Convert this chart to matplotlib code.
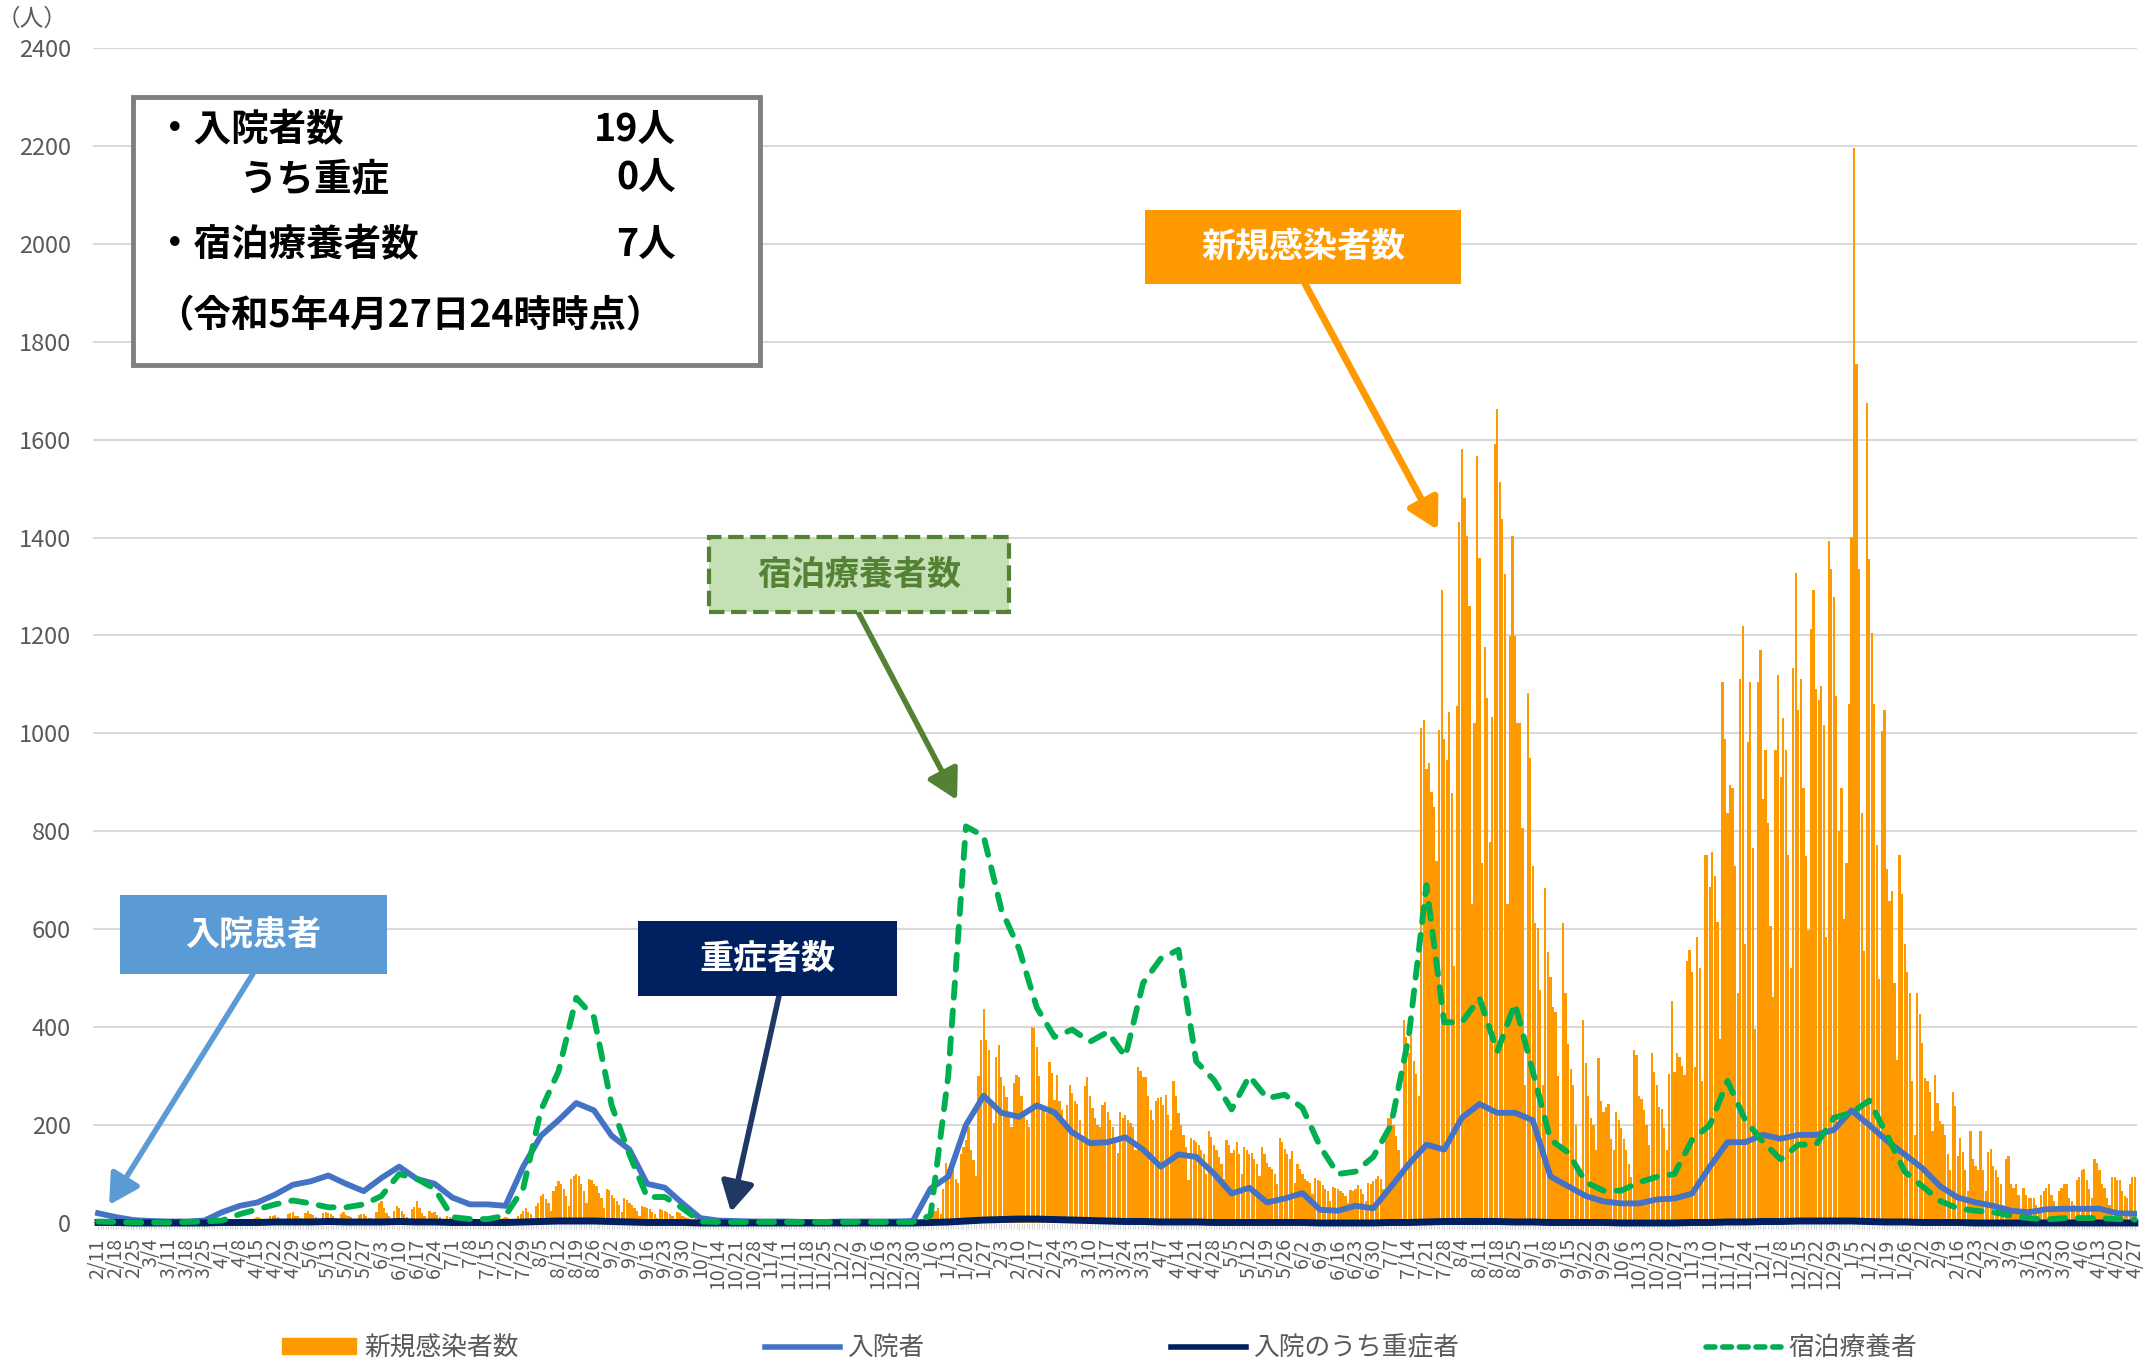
import numpy as np
import pandas as pd
import matplotlib
matplotlib.use('Agg')
import matplotlib.pyplot as plt
from matplotlib.patches import Rectangle, FancyArrowPatch
from matplotlib.lines import Line2D

plt.rcParams['font.family'] = ['Noto Sans CJK JP', 'DejaVu Sans']

# daily categories 2021/2/11 .. 2023/4/27
start_date = '2021-02-11'
end_date = '2023-04-27'

# new cases, one row per week (Thu..Wed)
new_cases_by_week = [
    [2, 1, 0, 0, 0, 1, 0], [0, 1, 0, 0, 0, 0, 1], [0, 0, 1, 0, 0, 0, 0], [1, 0, 0, 0, 0, 2, 1],
    [0, 1, 0, 0, 0, 0, 0], [0, 0, 0, 1, 0, 0, 1], [1, 2, 0, 0, 0, 1, 3], [4, 3, 2, 1, 0, 5, 6],
    [8, 6, 5, 3, 2, 9, 10], [12, 10, 8, 6, 3, 14, 15], [16, 12, 9, 8, 4, 18, 20], [22, 15, 14, 10, 6, 20, 24],
    [18, 16, 12, 9, 5, 20, 22], [20, 18, 14, 10, 6, 19, 23], [17, 15, 12, 8, 5, 16, 18], [18, 15, 11, 10, 4, 22, 40],
    [45, 30, 20, 15, 8, 25, 35], [30, 25, 18, 12, 6, 28, 32], [45, 30, 20, 14, 8, 25, 20], [22, 16, 12, 8, 4, 14, 12],
    [10, 8, 6, 5, 3, 8, 9], [7, 6, 4, 3, 2, 6, 8], [8, 6, 5, 4, 2, 8, 10], [12, 10, 8, 6, 4, 14, 18],
    [25, 30, 22, 18, 10, 35, 40], [55, 60, 48, 40, 25, 65, 75], [85, 80, 70, 55, 35, 90, 95], [100, 95, 80, 65, 40, 90, 88],
    [80, 75, 62, 50, 30, 70, 68], [58, 52, 45, 36, 22, 50, 46], [40, 36, 30, 25, 15, 35, 32], [30, 28, 22, 18, 10, 28, 26],
    [24, 22, 18, 14, 8, 22, 20], [14, 12, 10, 8, 5, 12, 10], [6, 5, 4, 3, 2, 5, 4], [3, 2, 2, 1, 1, 2, 2],
    [1, 0, 1, 0, 0, 1, 0], [0, 1, 0, 0, 0, 0, 1], [0, 0, 0, 1, 0, 0, 0], [1, 0, 0, 0, 0, 1, 0],
    [0, 0, 1, 0, 0, 0, 0], [0, 1, 0, 0, 0, 0, 1], [0, 0, 0, 0, 0, 1, 0], [1, 0, 0, 1, 0, 0, 0],
    [0, 0, 1, 0, 0, 1, 0], [1, 0, 0, 0, 0, 2, 1], [1, 2, 1, 3, 2, 5, 8], [15, 20, 25, 30, 18, 70, 122],
    [110, 100, 115, 90, 81, 140, 156], [170, 197, 150, 129, 95, 300, 374], [438, 374, 353, 250, 204, 340, 364], [299, 280, 258, 220, 197, 285, 302],
    [299, 260, 224, 210, 197, 401, 398], [360, 300, 241, 230, 224, 329, 306], [251, 302, 250, 230, 197, 241, 282], [265, 250, 244, 210, 176, 280, 299],
    [260, 234, 215, 200, 197, 240, 248], [227, 210, 197, 170, 142, 227, 215], [221, 210, 205, 197, 150, 319, 310], [299, 299, 260, 230, 210, 250, 255],
    [258, 240, 261, 220, 190, 289, 260], [224, 200, 180, 156, 88, 173, 170], [166, 160, 150, 140, 100, 187, 175], [159, 150, 135, 120, 90, 170, 160],
    [142, 150, 166, 140, 100, 156, 150], [140, 142, 130, 120, 95, 156, 140], [122, 115, 110, 100, 80, 173, 165], [152, 140, 130, 146, 81, 120, 110],
    [100, 90, 85, 81, 60, 91, 88], [85, 78, 70, 65, 45, 74, 72], [70, 65, 61, 55, 40, 67, 65], [70, 78, 70, 60, 45, 81, 80],
    [85, 90, 95, 90, 70, 171, 215], [217, 200, 177, 150, 105, 414, 380], [348, 381, 330, 304, 260, 1011, 1028], [928, 939, 880, 850, 740, 1006, 1293],
    [989, 945, 1044, 878, 525, 1055, 1431], [1580, 1480, 1403, 1260, 652, 1022, 1566], [1359, 735, 1177, 1072, 779, 1033, 1591], [1663, 1514, 1437, 1326, 652, 1199, 1403],
    [1199, 1022, 1022, 807, 282, 1083, 950], [729, 613, 602, 475, 282, 685, 553], [503, 442, 431, 300, 149, 613, 470], [365, 315, 282, 200, 116, 105, 414],
    [326, 260, 215, 200, 150, 337, 249], [226, 237, 243, 171, 149, 226, 210], [193, 171, 149, 120, 94, 354, 343], [260, 254, 230, 200, 160, 348, 309],
    [282, 237, 232, 193, 149, 304, 453], [309, 348, 340, 320, 303, 536, 558], [513, 318, 585, 520, 289, 751, 751], [686, 758, 708, 614, 375, 1105, 989],
    [838, 895, 888, 729, 469, 1112, 1220], [570, 982, 1105, 765, 397, 1105, 1170], [866, 967, 816, 606, 462, 967, 1119], [910, 1032, 967, 751, 520, 1134, 1328],
    [1047, 1112, 888, 750, 599, 1213, 1292], [1090, 1069, 1097, 1018, 585, 1393, 1336], [1278, 1076, 801, 888, 621, 736, 1061], [1401, 2195, 1754, 1336, 838, 556, 1675],
    [1357, 1206, 1061, 773, 498, 1004, 1047], [722, 657, 679, 491, 332, 751, 671], [570, 513, 469, 289, 180, 469, 426], [368, 296, 289, 267, 188, 303, 245],
    [209, 202, 180, 140, 108, 267, 238], [137, 173, 144, 108, 65, 188, 130], [116, 108, 188, 108, 65, 144, 152], [116, 108, 94, 79, 36, 130, 137],
    [79, 72, 79, 58, 29, 72, 58], [51, 51, 51, 36, 29, 58, 65], [72, 79, 58, 45, 29, 65, 72], [79, 79, 51, 45, 36, 87, 94],
    [108, 111, 87, 70, 51, 130, 123], [108, 79, 72, 51, 36, 94, 94], [87, 87, 65, 55, 51, 79, 94], [94],
]

# weekly readings (one value per tick date) for the three lines
hospitalized = [
    20, 12, 6, 4, 3, 3, 5, 22, 35, 42, 58, 78, 85, 97, 80, 65, 92, 115, 90, 80,
    52, 38, 38, 35, 115, 178, 210, 245, 230, 178, 150, 80, 72, 40, 10, 5, 4, 3, 3, 3,
    2, 2, 3, 3, 3, 3, 4, 70, 95, 200, 260, 225, 217, 240, 226, 185, 163, 165, 175, 150,
    115, 140, 135, 101, 60, 72, 42, 50, 61, 27, 25, 35, 30, 74, 120, 160, 150, 215, 243, 225,
    225, 210, 95, 75, 55, 44, 40, 40, 48, 50, 60, 115, 165, 165, 180, 172, 180, 180, 190, 230,
    200, 168, 140, 112, 75, 52, 42, 35, 25, 22, 28, 29, 29, 29, 20, 19,
]
severe = [
    1, 1, 0, 0, 0, 0, 0, 1, 1, 1, 2, 2, 2, 3, 2, 2, 2, 3, 2, 2,
    1, 1, 1, 1, 2, 3, 4, 4, 4, 3, 2, 1, 1, 1, 0, 0, 0, 0, 0, 0,
    0, 0, 0, 0, 0, 0, 0, 1, 2, 4, 6, 7, 8, 8, 7, 6, 5, 4, 3, 3,
    2, 2, 2, 1, 1, 1, 1, 1, 1, 0, 0, 0, 0, 1, 1, 2, 3, 3, 3, 3,
    2, 2, 1, 1, 1, 1, 0, 0, 0, 0, 1, 1, 2, 2, 3, 3, 4, 4, 4, 4,
    3, 2, 2, 1, 1, 1, 0, 0, 0, 0, 0, 0, 0, 0, 0, 0,
]
lodging = [
    3, 2, 1, 1, 1, 2, 3, 5, 18, 28, 38, 46, 40, 32, 32, 38, 55, 100, 90, 70,
    12, 8, 8, 15, 70, 230, 310, 460, 420, 240, 140, 53, 53, 30, 3, 2, 2, 2, 2, 2,
    2, 2, 2, 2, 2, 2, 2, 15, 300, 810, 790, 640, 560, 440, 380, 395, 370, 390, 340, 490,
    540, 558, 330, 292, 232, 300, 255, 262, 235, 156, 100, 105, 135, 200, 380, 690, 410, 410, 459, 350,
    448, 310, 170, 144, 83, 66, 66, 83, 94, 100, 170, 200, 290, 210, 166, 130, 160, 160, 215, 225,
    250, 180, 105, 75, 45, 30, 25, 22, 15, 10, 7, 10, 10, 10, 8, 7,
]

series_names = ['新規感染者数', '入院者', '入院のうち重症者', '宿泊療養者']

days = pd.date_range(start_date, end_date, freq='D')
new_cases = sum(new_cases_by_week, [])
x = np.arange(len(days))
xw = x[::7]
tick_labels = [f'{d.month}/{d.day}' for d in days[::7]]

c_orange = '#ff9900'
c_blue = '#4472c4'
c_navy = '#002060'
c_green = '#00b050'
c_text = '#595959'

fig = plt.figure(figsize=(21.43, 13.66), dpi=100)
ax = fig.add_axes([0.0434, 0.1047, 0.9540, 0.8602])

ax.bar(x, new_cases, width=0.88, color=c_orange, linewidth=0, zorder=2)
ax.plot(xw, hospitalized, color=c_blue, lw=4.2, zorder=3, solid_joinstyle='round')
ax.plot(xw, severe, color=c_navy, lw=5, zorder=4, clip_on=False)
ax.plot(xw, lodging, color=c_green, lw=4.2, dashes=(2.6, 2.2), dash_capstyle='round', zorder=5, clip_on=False)

ax.set_xlim(-2, 806)
ax.set_ylim(0, 2400)
ax.set_yticks(range(0, 2401, 200))
ax.set_xticks(xw)
ax.set_xticklabels(tick_labels, rotation=90)
ax.set_xticks(x, minor=True)
ax.grid(axis='y', color='#d9d9d9', lw=1.5, zorder=0)
ax.set_axisbelow(True)
for s in ax.spines.values():
    s.set_visible(False)
ax.tick_params(axis='y', length=0, pad=16, labelsize=17, labelcolor=c_text)
ax.tick_params(axis='x', which='major', length=5, color='#d9d9d9', pad=6, labelsize=14, labelcolor=c_text)
ax.tick_params(axis='x', which='minor', length=4, color='#d9d9d9', width=0.8)

fig.text(0.0148, 0.986, '（人）', fontsize=17, color=c_text, ha='center', va='center')

# legend at the bottom
handles = [
    Rectangle((0, 0), 1, 1, color=c_orange),
    Line2D([], [], color=c_blue, lw=4),
    Line2D([], [], color=c_navy, lw=4),
    Line2D([], [], color=c_green, lw=4, dashes=(1.6, 1.4), dash_capstyle='round'),
]
fig.legend(handles, series_names, loc='center', bbox_to_anchor=(0.513, 0.013), ncol=4,
           frameon=False, fontsize=18.5, labelcolor=c_text, handlelength=2.9,
           handletextpad=0.3, columnspacing=9.6, handleheight=0.6)

# info box
fig.add_artist(Rectangle((0.0621, 0.7328), 0.2925, 0.1962, transform=fig.transFigure,
                         facecolor='white', edgecolor='#7f7f7f', lw=3.5, zorder=10))
info_kw = dict(fontsize=27, fontweight='bold', va='center', color='black', zorder=11)
fig.text(0.073, 0.9048, '・入院者数', **info_kw)
fig.text(0.3154, 0.9048, f'{hospitalized[-1]}人', ha='right', **info_kw)
fig.text(0.112, 0.8690, 'うち重症', **info_kw)
fig.text(0.3154, 0.8690, f'{severe[-1]}人', ha='right', **info_kw)
fig.text(0.073, 0.8206, '・宿泊療養者数', **info_kw)
fig.text(0.3154, 0.8206, f'{lodging[-1]}人', ha='right', **info_kw)
fig.text(0.073, 0.7687, '（令和5年4月27日24時時点）', **info_kw)


def label_box(x0, y0, x1, y1, text, face, tcolor, edge=None, ls='-'):
    fig.add_artist(Rectangle((x0, y0), x1 - x0, y1 - y0, transform=fig.transFigure,
                             facecolor=face, edgecolor=edge if edge else face,
                             lw=3 if edge else 0, linestyle=ls, zorder=10))
    fig.text((x0 + x1) / 2, (y0 + y1) / 2, text, ha='center', va='center',
             fontsize=24.5, fontweight='bold', color=tcolor, zorder=11)


def arrow(p0, p1, color, lw):
    fig.add_artist(FancyArrowPatch(p0, p1, transform=fig.transFigure,
                                   arrowstyle='-|>,head_length=0.9,head_width=0.5',
                                   mutation_scale=20, lw=lw, color=color,
                                   shrinkA=0, shrinkB=0, zorder=9))


label_box(0.5343, 0.7921, 0.6818, 0.8463, '新規感染者数', c_orange, 'white')
arrow((0.6090, 0.7921), (0.6710, 0.6120), c_orange, 5)

label_box(0.3309, 0.5520, 0.4708, 0.6069, '宿泊療養者数', '#c5e0b4', '#548235', edge='#548235', ls='--')
arrow((0.4004, 0.5520), (0.4466, 0.4143), '#548235', 4)

label_box(0.0560, 0.2870, 0.1806, 0.3448, '入院患者', '#5b9bd5', 'white')
arrow((0.1180, 0.2870), (0.0509, 0.1179), '#5b9bd5', 4)

label_box(0.2977, 0.2709, 0.4186, 0.3258, '重症者数', c_navy, 'white')
arrow((0.3635, 0.2709), (0.3411, 0.1127), '#203864', 4)

fig.savefig('out.png', dpi=100)
